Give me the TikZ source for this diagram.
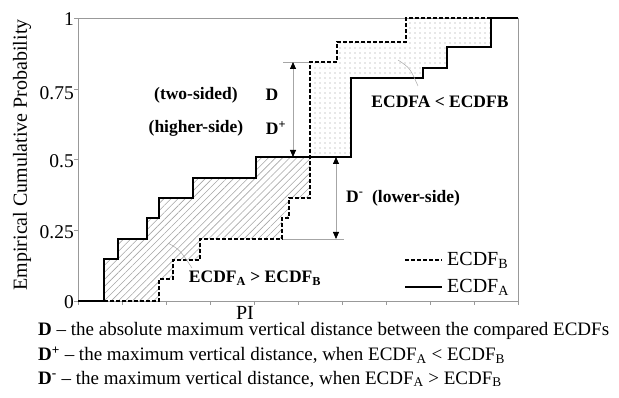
\documentclass[tikz,border=0pt]{standalone}
\usepackage{fontspec}
\setmainfont{Liberation Serif}
\usetikzlibrary{patterns.meta,arrows.meta}
\begin{document}
\begin{tikzpicture}[x=1pt,y=-1pt,
  frame/.style={draw=gray!80,line width=0.7pt},
  tickline/.style={draw=gray!80,line width=0.6pt},
  ecdfa/.style={draw=black,line width=2.4pt,line join=miter},
  ecdfb/.style={draw=black,line width=2pt,dash pattern=on 4pt off 2pt},
  hatchfill/.style={pattern={Lines[angle=45,distance=5pt,line width=0.6pt]},pattern color=gray!70},
  dotfill/.style={pattern={Dots[distance=5pt,radius=0.55pt]},pattern color=gray!80},
  lead/.style={draw=gray!70,line width=0.5pt},
  dim/.style={draw=gray!70,line width=0.8pt,{Triangle[length=7pt,width=6pt,color=black]}-{Triangle[length=7pt,width=6pt,color=black]}},
  lbl/.style={font=\fontsize{17.5}{19}\selectfont\bfseries,inner sep=0pt},
  tlbl/.style={font=\fontsize{19.5}{21}\selectfont,inner sep=0pt,anchor=east},
  legtxt/.style={font=\fontsize{20}{22}\selectfont,inner sep=0pt,anchor=west},
  bottxt/.style={font=\fontsize{19}{21}\selectfont,inner sep=0pt,anchor=west}]
\useasboundingbox (0,0) rectangle (619,398);
% fills
\fill[hatchfill] (104,301) -- (104,259) -- (118,259) -- (118,239) -- (147,239) -- (147,218) -- (159,218) -- (159,198) -- (193,198) -- (193,178) -- (256,178) -- (256,157) -- (310,157) -- (310,198) -- (289,198) -- (289,218) -- (282,218) -- (282,239) -- (200,239) -- (200,260) -- (173,260) -- (173,279) -- (159,279) -- (159,301) -- cycle;
\fill[dotfill] (310,157) -- (310,62) -- (337,62) -- (337,42) -- (406,42) -- (406,18) -- (491,18) -- (491,47) -- (447,47) -- (447,68) -- (423,68) -- (423,78) -- (351,78) -- (351,157) -- cycle;
% frame
\draw[frame] (78,18) rectangle (518,301);
\foreach \yy in {18,89,159,230,301} \draw[tickline] (74,\yy) -- (78,\yy);
\foreach \k in {0,...,10} \draw[tickline] (78+44*\k,301) -- (78+44*\k,305);
% tick labels
\node[tlbl] (t1) at (74,19) {1};
\node[tlbl] (t075) at (74,93) {0.75};
\node[tlbl] (t05) at (74,161) {0.5};
\node[tlbl] (t025) at (74,232) {0.25};
\node[tlbl] (t0) at (74,302) {0};
\node[font=\fontsize{20}{22}\selectfont,rotate=90,inner sep=0pt] (ylab) at (22,155) {Empirical Cumulative Probability};
\node[font=\fontsize{20}{22}\selectfont,inner sep=0pt] (xlab) at (245,313) {PI};
% leader lines
\coordinate (dtop) at (293,62);
\coordinate (dbot) at (293,157);
\coordinate (mtop) at (336,157);
\coordinate (mbot) at (336,239);
\draw[lead] (283,62) -- (310,62);
\draw[lead] (282,239) -- (344,239);
\draw[dim] (dtop) -- (dbot);
\draw[dim] (mtop) -- (mbot);
% curves
\draw[ecdfb] (104,301) -- (159,301) -- (159,279) -- (173,279) -- (173,260) -- (200,260) -- (200,239) -- (282,239) -- (282,218) -- (289,218) -- (289,198) -- (310,198) -- (310,62) -- (337,62) -- (337,42) -- (406,42) -- (406,18) -- (491,18);
\draw[ecdfa] (78,301) -- (104,301) -- (104,259) -- (118,259) -- (118,239) -- (147,239) -- (147,218) -- (159,218) -- (159,198) -- (193,198) -- (193,178) -- (256,178) -- (256,157) -- (351,157) -- (351,78) -- (423,78) -- (423,68) -- (447,68) -- (447,47) -- (491,47) -- (491,18) -- (518,18);
% labels
\node[lbl] (two) at (196,95) {(two-sided)};
\node[lbl] (dd) at (272,95) {D};
\node[lbl] (high) at (196,128) {(higher-side)};
\node[lbl] (dplus) at (276,128) {D\textsuperscript{+}};
\node[lbl,anchor=west] (dminus) at (346,198) {D\textsuperscript{-}\ \ (lower-side)};
\node[lbl] (lt) at (440,102) {ECDFA < ECDFB};
\node[lbl] (gt) at (255,278) {ECDF\textsubscript{A} > ECDF\textsubscript{B}};
\draw[lead] (398,60) .. controls (410,68) .. (418,86);
\draw[lead] (168,243) .. controls (180,250) .. (192,268);
% legend
\coordinate (lb1) at (405,260);
\coordinate (lb2) at (442,260);
\coordinate (la1) at (405,287);
\coordinate (la2) at (442,287);
\draw[ecdfb] (lb1) -- (lb2);
\draw[ecdfa] (la1) -- (la2);
\node[legtxt] (legb) at (447,260) {ECDF\textsubscript{B}};
\node[legtxt] (lega) at (447,287) {ECDF\textsubscript{A}};
% bottom text
\node[bottxt] (b1) at (38,331) {\textbf{D} – the absolute maximum vertical distance between the compared ECDFs};
\node[bottxt] (b2) at (38,355) {\textbf{D\textsuperscript{+}} – the maximum vertical distance, when ECDF\textsubscript{A} < ECDF\textsubscript{B}};
\node[bottxt] (b3) at (38,379) {\textbf{D\textsuperscript{-}} – the maximum vertical distance, when ECDF\textsubscript{A} > ECDF\textsubscript{B}};
\end{tikzpicture}
\end{document}
